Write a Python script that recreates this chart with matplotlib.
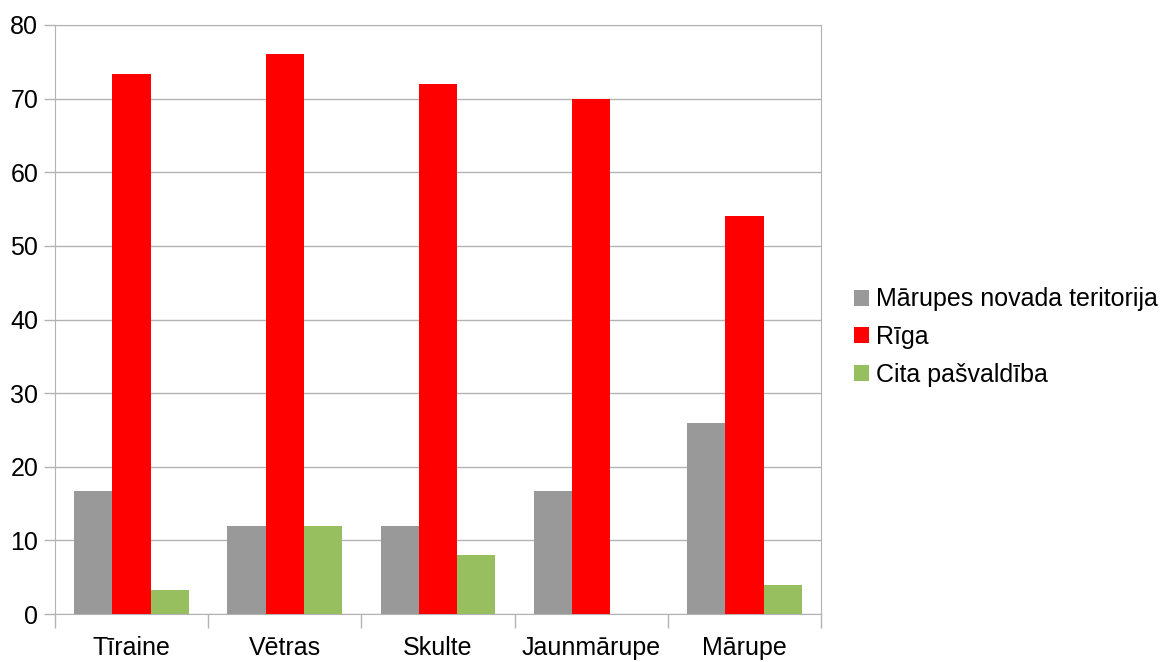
import numpy as np
import matplotlib.pyplot as plt

plt.rcParams['font.family'] = ['Liberation Sans', 'DejaVu Sans']

categories = ['Tīraine', 'Vētras', 'Skulte', 'Jaunmārupe', 'Mārupe']
series_names = ['Mārupes novada teritorija', 'Rīga', 'Cita pašvaldība']
teritorija = [16.7, 12.0, 12.0, 16.7, 26.0]
riga = [73.3, 76.0, 72.0, 70.0, 54.0]
cita = [3.3, 12.0, 8.0, 0.0, 4.0]
colors = ['#999999', '#ff0000', '#97bf5f']

fig = plt.figure(figsize=(11.72, 6.62), dpi=100)
ax = fig.add_axes([55 / 1172, 48 / 662, 766 / 1172, 589 / 662])

x = np.arange(len(categories))
w = 0.25
for i, (vals, name) in enumerate(zip([teritorija, riga, cita], series_names)):
    ax.bar(x + (i - 1) * w, vals, w, color=colors[i], label=name, zorder=3)

ax.set_xlim(-0.5, len(categories) - 0.5)
ax.set_ylim(0, 80)
ax.set_yticks(np.arange(0, 81, 10))
ax.yaxis.grid(True, color='#b3b3b3', linewidth=1, zorder=0)

# category labels centred, tick marks on the boundaries
ax.set_xticks(x)
ax.set_xticklabels(categories, fontsize=18)
ax.tick_params(axis='x', length=0, pad=16)
ax.set_xticks(np.arange(-0.5, len(categories)), minor=True)
ax.tick_params(axis='x', which='minor', length=10, color='#b3b3b3', width=1)
ax.tick_params(axis='y', length=8, color='#b3b3b3', width=1, labelsize=18, pad=4)

for s in ax.spines.values():
    s.set_color('#b3b3b3')

ax.legend(loc='center left', bbox_to_anchor=(1.03, 0.47), frameon=False,
          fontsize=18, handlelength=0.6, handleheight=0.6, handletextpad=0.3,
          labelspacing=0.55, borderaxespad=0)

fig.savefig('out.png', dpi=100)
